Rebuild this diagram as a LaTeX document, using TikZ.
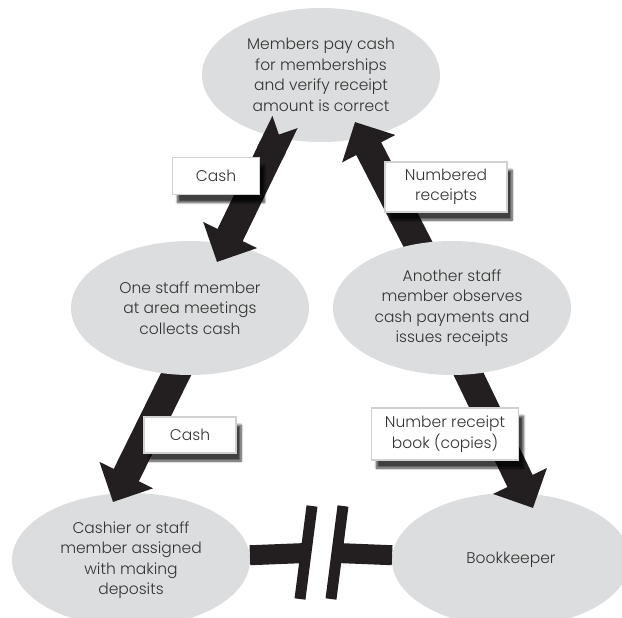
\documentclass[tikz,border=0pt]{standalone}
\usepackage{fontspec}
\setmainfont{Poppins}[UprightFont={* Light}]
\usetikzlibrary{arrows.meta,shapes.geometric,shadows.blur}
\definecolor{bubblegray}{HTML}{DCDDDE}
\definecolor{inkblack}{HTML}{231F20}
\definecolor{textgray}{HTML}{333333}
\tikzset{
  flowtip/.tip={Triangle[length=30pt,width=58pt]},
  bubble/.style={ellipse,fill=bubblegray,minimum width=238pt,minimum height=134pt,inner sep=0pt,align=center,text=textgray,font=\fontsize{15.5}{20.5}\selectfont},
  tag/.style={rectangle,draw=black!18,line width=1.2pt,fill=white,align=center,text=textgray,font=\fontsize{15.5}{20.5}\selectfont,blur shadow={shadow xshift=5pt,shadow yshift=-8pt,shadow blur steps=8,shadow opacity=75}},
  flow/.style={-flowtip,line width=28pt,draw=inkblack},
  link/.style={line width=20pt,draw=inkblack},
  breakmark/.style={line width=11pt,draw=inkblack}
}

\begin{document}
\begin{tikzpicture}[x=1pt,y=-1pt]
  \useasboundingbox (0,0) rectangle (622,618);
  \node[bubble] (members) at (321,75) {Members pay cash\\for memberships\\and verify receipt\\amount is correct};
  \node[bubble] (cashier) at (131,560) {Cashier or staff\\member assigned\\with making\\deposits};
  \node[bubble] (keeper) at (511,560) {Bookkeeper};
  \coordinate (collectpos) at (190,308);
  \coordinate (observepos) at (452,308);

  % tails start under the middle bubbles
  \draw[flow] ([shift={(-27,-50)}]observepos) -- ([shift={(34,47)}]members.center);
  \draw[flow] ([shift={(6,44)}]observepos) -- ([shift={(22,-52)}]keeper.center);
  \draw[flow] ([shift={(-3,44)}]collectpos) -- ([shift={(-18,-58)}]cashier.center);

  \node[bubble] (collector) at (collectpos) {One staff member\\at area meetings\\collects cash};
  \node[bubble] (observer) at (observepos) {Another staff\\member observes\\cash payments and\\issues receipts};

  \draw[flow,{Triangle Cap[reversed]}-flowtip] ([shift={(-36,47)}]members.center) -- ([shift={(27,-46)}]collector.center);

  % broken line between cashier and bookkeeper
  \coordinate (gapL) at (306,553);
  \coordinate (gapR) at (337,553);
  \draw[link] (cashier) -- (gapL);
  \draw[link] (gapR) -- (keeper);
  \draw[breakmark] ([shift={(6,-47)}]gapL) -- ([shift={(-6,46)}]gapL);
  \draw[breakmark] ([shift={(6,-47)}]gapR) -- ([shift={(-6,46)}]gapR);

  \node[tag,minimum width=87pt,minimum height=37pt] (cash1) at (216,176) {Cash};
  \node[tag,minimum width=122pt,minimum height=50pt] (numbered) at (446,187) {Numbered\\receipts};
  \node[tag,minimum width=92pt,minimum height=36pt] (cash2) at (190,435) {Cash};
  \node[tag,minimum width=147pt,minimum height=52pt] (copies) at (445,434) {Number receipt\\book (copies)};
\end{tikzpicture}
\end{document}
